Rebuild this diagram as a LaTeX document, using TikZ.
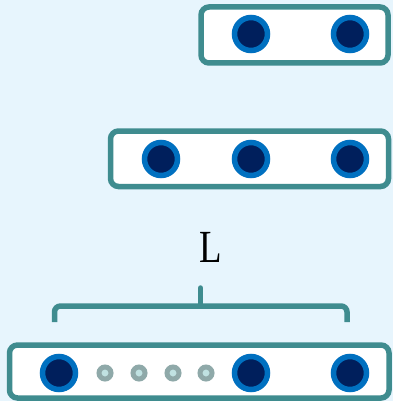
\documentclass[tikz,border=0pt]{standalone}
\usepackage{fontspec}
\newfontfamily\labfont{Liberation Serif}
\definecolor{bgblue}{HTML}{E7F5FD}
\definecolor{teal}{HTML}{3F8C8F}
\definecolor{ringblue}{HTML}{0070C0}
\definecolor{navy}{HTML}{001F5C}
\definecolor{dotgrey}{HTML}{8FA9A9}
\definecolor{dotlight}{HTML}{C0E2E2}
\tikzset{
  slotbox/.style={draw=teal, fill=white, line width=5.5pt, rounded corners=8pt, inner sep=0pt},
  bigdot/.style={circle, draw=ringblue, fill=navy, line width=5.5pt, minimum size=33pt, inner sep=0pt},
  smalldot/.style={circle, draw=dotgrey, fill=dotlight, line width=5pt, minimum size=12pt, inner sep=0pt},
  bracestyle/.style={draw=teal, line width=5.5pt}
}
\begin{document}
\begin{tikzpicture}[x=1pt,y=-1pt]
\useasboundingbox (0,0) rectangle (392,401);
\fill[bgblue] (-5,-5) rectangle (397,406);
% boxes
\node[slotbox, minimum width=187pt, minimum height=56pt] (boxA) at (294.5,35) {};
\node[slotbox, minimum width=278pt, minimum height=55.5pt] (boxB) at (249.5,158.75) {};
\node[slotbox, minimum width=379.5pt, minimum height=53pt] (boxC) at (199.25,371.5) {};
% top row
\node[bigdot] (a1) at (251,34) {};
\node[bigdot] (a2) at (350,34) {};
% middle row
\node[bigdot] (b1) at (161,159) {};
\node[bigdot] (b2) at (251,159) {};
\node[bigdot] (b3) at (350,159) {};
% bottom row
\node[bigdot] (c1) at (59,373) {};
\node[smalldot] (d1) at (105,373) {};
\node[smalldot] (d2) at (139,373) {};
\node[smalldot] (d3) at (173,373) {};
\node[smalldot] (d4) at (206,373) {};
\node[bigdot] (c2) at (251,373) {};
\node[bigdot] (c3) at (350,373) {};
% brace
\coordinate (bl) at (54.5,322);
\coordinate (br) at (347,322);
\coordinate (bm) at (200.5,306);
\coordinate (bt) at (200.5,288);
\draw[bracestyle, rounded corners=6pt] (bl) |- (bm) -| (br);
\draw[bracestyle, line cap=round] (bm) -- (bt);
% label
\node[anchor=base, inner sep=0pt, font=\labfont\fontsize{46}{50}\selectfont] (lab) at (210.5,262.5) {\scalebox{0.8}[1]{L}};
\end{tikzpicture}
\end{document}
